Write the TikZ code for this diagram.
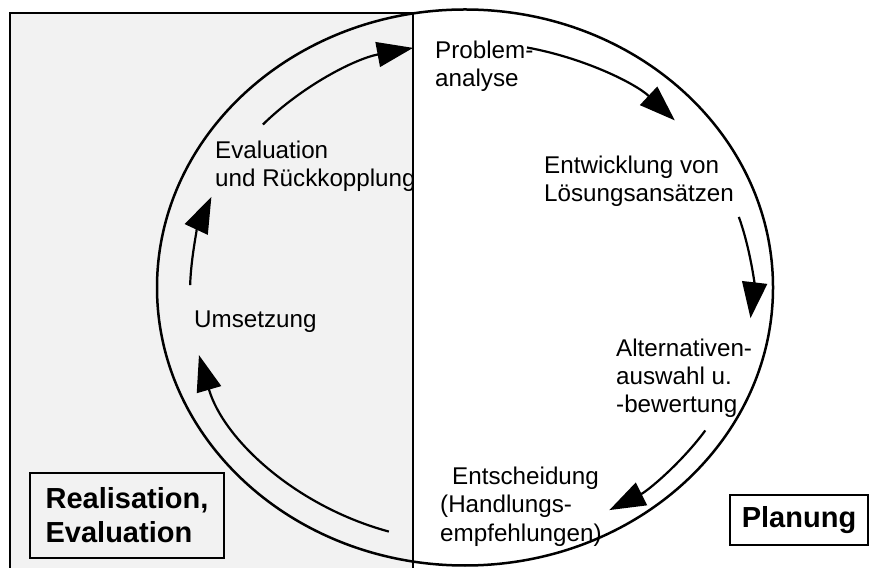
\documentclass[tikz,border=0pt]{standalone}
\usepackage{fontspec}
\setmainfont{Liberation Sans}
\usetikzlibrary{arrows.meta}
\definecolor{panelgray}{RGB}{242,242,242}
\begin{document}
\begin{tikzpicture}[x=1pt,y=1pt,
  cycletext/.style={anchor=base west, align=left, inner sep=0pt,
    font=\fontsize{24.2}{28}\selectfont},
  phasebox/.style={draw, line width=2pt, anchor=south west, inner sep=0pt,
    font=\bfseries\fontsize{29}{34}\selectfont},
  flow/.style={line width=2.2pt, -{Triangle[length=36pt,width=25pt]}},
]
\useasboundingbox (0,0) rectangle (869,567);
\fill[white] (0,0) rectangle (869,567);

% shaded half for realisation and evaluation
\draw[line width=2pt, fill=panelgray] (10,-10) -- (10,554) -- (413,554) -- (413,-10);

% outer cycle
\draw[line width=2.5pt] (465,279.5) ellipse [x radius=308, y radius=278];

% centre of the inner ring of arrows
\coordinate (c) at (471,274.5);

% start points of the arrows on the inner ring
\path (c) ++(137.8:281 and 250) coordinate (evalS);
\path (c) ++(78.5:281 and 250)  coordinate (probS);
\path (c) ++(17.6:281 and 250)  coordinate (devS);
\path (c) ++(-33.5:281 and 250) coordinate (altS);
\path (c) ++(253:281 and 250)   coordinate (decS);
\path (c) ++(178.3:281 and 250) coordinate (implS);

\draw[flow] (evalS) arc[start angle=137.8, end angle=101.9, x radius=281, y radius=250];
\draw[flow] (probS) arc[start angle=78.5,  end angle=43.5,  x radius=281, y radius=250];
\draw[flow] (devS)  arc[start angle=17.6,  end angle=-5.9,  x radius=281, y radius=250];
\draw[flow] (altS)  arc[start angle=-33.5, end angle=-60.5, x radius=281, y radius=250];
\draw[flow] (decS)  arc[start angle=253,   end angle=194.5, x radius=281, y radius=250];
\draw[flow] (implS) arc[start angle=178.3, end angle=157.5, x radius=281, y radius=250];

% steps of the cycle (anchored at the baseline of the last line)
\node[cycletext] (problem) at (435,480) {Problem-\\analyse};
\node[cycletext] (develop) at (544,365) {Entwicklung von\\Lösungsansätzen};
\node[cycletext] (choose)  at (616,154) {Alternativen-\\auswahl u.\\-bewertung};
\node[cycletext] (decide)  at (440,26)  {\hspace*{12pt}Entscheidung\\(Handlungs-\\empfehlungen)};
\node[cycletext] (implement) at (194,239) {Umsetzung};
\node[cycletext] (evaluate) at (215,380) {Evaluation\\und Rückkopplung};

% phase labels
\node[phasebox, minimum width=194, minimum height=85, align=left,
      inner xsep=14pt] (realbox) at (29,8) {Realisation,\\Evaluation};
\node[phasebox, minimum width=138, minimum height=50] (planbox) at (729,21) {Planung};
\end{tikzpicture}
\end{document}
